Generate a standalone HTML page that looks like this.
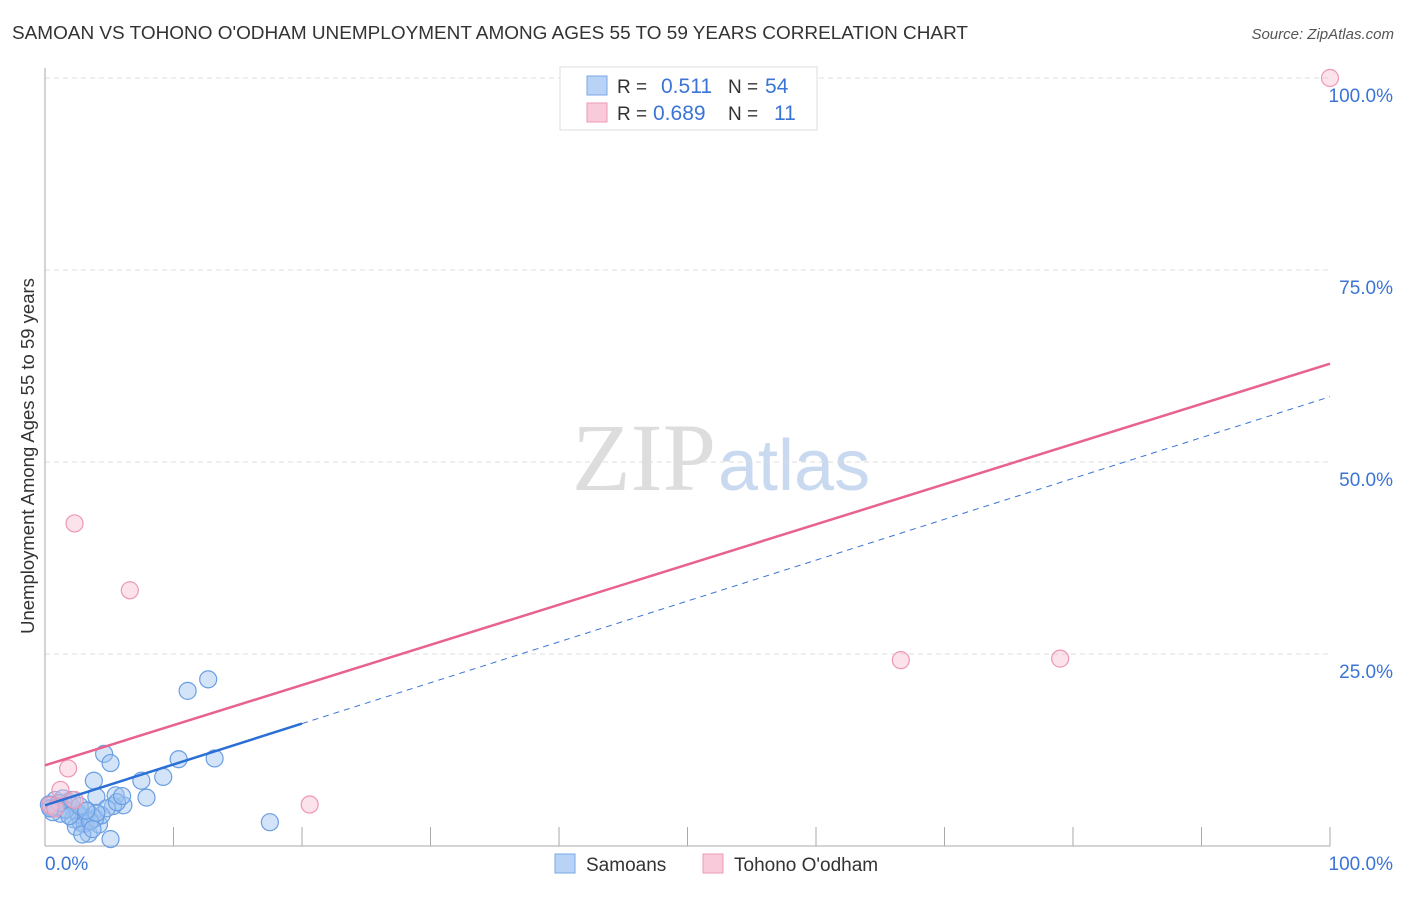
<!DOCTYPE html>
<html><head><meta charset="utf-8">
<style>
body{margin:0;background:#fff;font-family:"Liberation Sans",sans-serif;}
</style></head>
<body>
<svg id="chart" width="1406" height="892" font-family="Liberation Sans, sans-serif">
<text x="12" y="39" font-size="18" fill="#333" textLength="956" lengthAdjust="spacingAndGlyphs">SAMOAN VS TOHONO O'ODHAM UNEMPLOYMENT AMONG AGES 55 TO 59 YEARS CORRELATION CHART</text>
<text x="1394" y="39" font-size="15" fill="#555" text-anchor="end" font-style="italic">Source: ZipAtlas.com</text>
<text transform="translate(34,456) rotate(-90)" font-size="18.5" fill="#333" text-anchor="middle">Unemployment Among Ages 55 to 59 years</text>
<text x="716" y="490" font-size="96" fill="#ddd" text-anchor="end" style="font-family:'Liberation Serif',serif">ZIP</text>
<text x="718" y="490" font-size="72" fill="#c9d9f0">atlas</text>
<g id="grid"></g>
<g id="marks"></g>
<g>
<rect x="560" y="67" width="257" height="63" fill="#fff" stroke="#ddd"/>
<rect x="587" y="76" width="20" height="19" fill="#b8d3f5" stroke="#7aa7e6"/>
<rect x="587" y="103" width="20" height="19" fill="#f9cada" stroke="#ee9ab6"/>
<text x="617" y="93" font-size="19" fill="#333">R =</text>
<text x="661" y="93" font-size="21" fill="#3b74d6">0.511</text>
<text x="728" y="93" font-size="19" fill="#333">N =</text>
<text x="765" y="93" font-size="21" fill="#3b74d6">54</text>
<text x="617" y="120" font-size="19" fill="#333">R =</text>
<text x="653" y="120" font-size="21" fill="#3b74d6">0.689</text>
<text x="728" y="120" font-size="19" fill="#333">N =</text>
<text x="774" y="120" font-size="21" fill="#3b74d6">11</text>
</g>
<g>
<rect x="555" y="854" width="20" height="19" fill="#b8d3f5" stroke="#7aa7e6"/>
<text x="586" y="871" font-size="19" fill="#333">Samoans</text>
<rect x="703" y="854" width="20" height="19" fill="#f9cada" stroke="#ee9ab6"/>
<text x="734" y="871" font-size="19" fill="#333">Tohono O'odham</text>
</g>
</svg>
<script>
const yTicks=[25,50,75,100];
const yTickLabels=["25.0%","50.0%","75.0%","100.0%"];
const xTickLabels=["0.0%","100.0%"];
const samoanX=[12.7,11.1,4.6,5.1,10.4,13.2,3.8,9.2,7.5,7.9,6.1,5.5,5.3,4.0,17.5,5.1,3.4,0.5,1.0,1.5,2.0,2.5,3.0,0.8,1.2,1.8,2.2,2.8,3.3,3.6,4.2,4.4,0.3,0.6,1.4,2.6,3.1,3.9,4.8,5.6,6.0,0.9,1.6,2.4,2.9,3.5,4.0,1.1,0.4,2.1,3.7,1.9,2.7,3.2];
const samoanY=[21.7,20.2,12.0,10.8,11.3,11.4,8.5,9.0,8.5,6.3,5.3,6.6,5.2,6.4,3.1,0.9,1.6,5.0,5.5,4.8,5.3,4.5,3.8,6.0,4.2,5.8,3.5,3.0,4.6,3.3,2.8,4.0,5.4,4.4,6.2,4.1,2.9,3.6,4.9,5.7,6.5,5.1,4.7,2.5,1.5,3.2,4.3,5.6,4.9,6.0,2.2,3.9,5.2,4.6];
const tohonoX=[100,2.3,6.6,66.6,79.0,20.6,1.8,1.2,0.4,2.3,0.8];
const tohonoY=[100,42.0,33.3,24.2,24.4,5.4,10.1,7.3,5.3,6.0,4.9];
const samoanFit=[5.3,58.5];
const tohonoFit=[10.5,62.8];
const samoanSolidEnd=20;

const NS="http://www.w3.org/2000/svg";
const X0=45,X1=1330,Y0=846,Y1=78;
function sx(v){return X0+(X1-X0)*v/100;}
function sy(v){return Y0-(Y0-Y1)*v/100;}
function mk(tag,attrs,parent){const e=document.createElementNS(NS,tag);for(const k in attrs)e.setAttribute(k,attrs[k]);parent.appendChild(e);return e;}
const grid=document.getElementById('grid');
const marks=document.getElementById('marks');

yTicks.forEach((t,i)=>{
  const l=mk('line',{x1:X0,x2:X1,y1:sy(t),y2:sy(t),stroke:'#ddd','stroke-dasharray':'5,4'},grid);
  
  
  const tx=mk('text',{x:1393,y:sy(t)+24,'font-size':19,fill:'#3b74d6','text-anchor':'end'},grid);
  tx.textContent=yTickLabels[i];
  
  
});
const ax=mk('line',{x1:X0,x2:X0,y1:68,y2:Y0,stroke:'#aaa'},grid);


const bx=mk('line',{x1:X0,x2:X1,y1:Y0,y2:Y0,stroke:'#aaa'},grid);


for(let i=1;i<=10;i++){
  const t=mk('line',{x1:sx(i*10),x2:sx(i*10),y1:Y0-19,y2:Y0,stroke:'#aaa'},grid);
  
  
}
[[0,'start',45],[100,'end',1393]].forEach((d,i)=>{
  const tx=mk('text',{x:d[2],y:870,'font-size':19,fill:'#3b74d6','text-anchor':d[1]},grid);
  tx.textContent=xTickLabels[i];
  
  
});

samoanX.forEach((x,i)=>{
  const c=mk('circle',{cx:sx(x),cy:sy(samoanY[i]),r:8.5,fill:'rgba(160,196,240,0.45)',stroke:'#6a9ee3','stroke-width':1.2},marks);
  
  
});
tohonoX.forEach((x,i)=>{
  const c=mk('circle',{cx:sx(x),cy:sy(tohonoY[i]),r:8.5,fill:'rgba(248,190,210,0.45)',stroke:'#ec97b3','stroke-width':1.2},marks);
  
  
});
function fitY(f,x){return f[0]+(f[1]-f[0])*x/100;}
const tl=mk('line',{x1:sx(0),y1:sy(fitY(tohonoFit,0)),x2:sx(100),y2:sy(fitY(tohonoFit,100)),stroke:'#e8628e','stroke-width':2.5},marks);


const sd=mk('line',{x1:sx(samoanSolidEnd),y1:sy(fitY(samoanFit,samoanSolidEnd)),x2:sx(100),y2:sy(fitY(samoanFit,100)),stroke:'#3b74d6','stroke-width':1,'stroke-dasharray':'6,5'},marks);


const sl=mk('line',{x1:sx(0),y1:sy(fitY(samoanFit,0)),x2:sx(samoanSolidEnd),y2:sy(fitY(samoanFit,samoanSolidEnd)),stroke:'#2a6fd6','stroke-width':2.5},marks);


</script>
</body></html>
